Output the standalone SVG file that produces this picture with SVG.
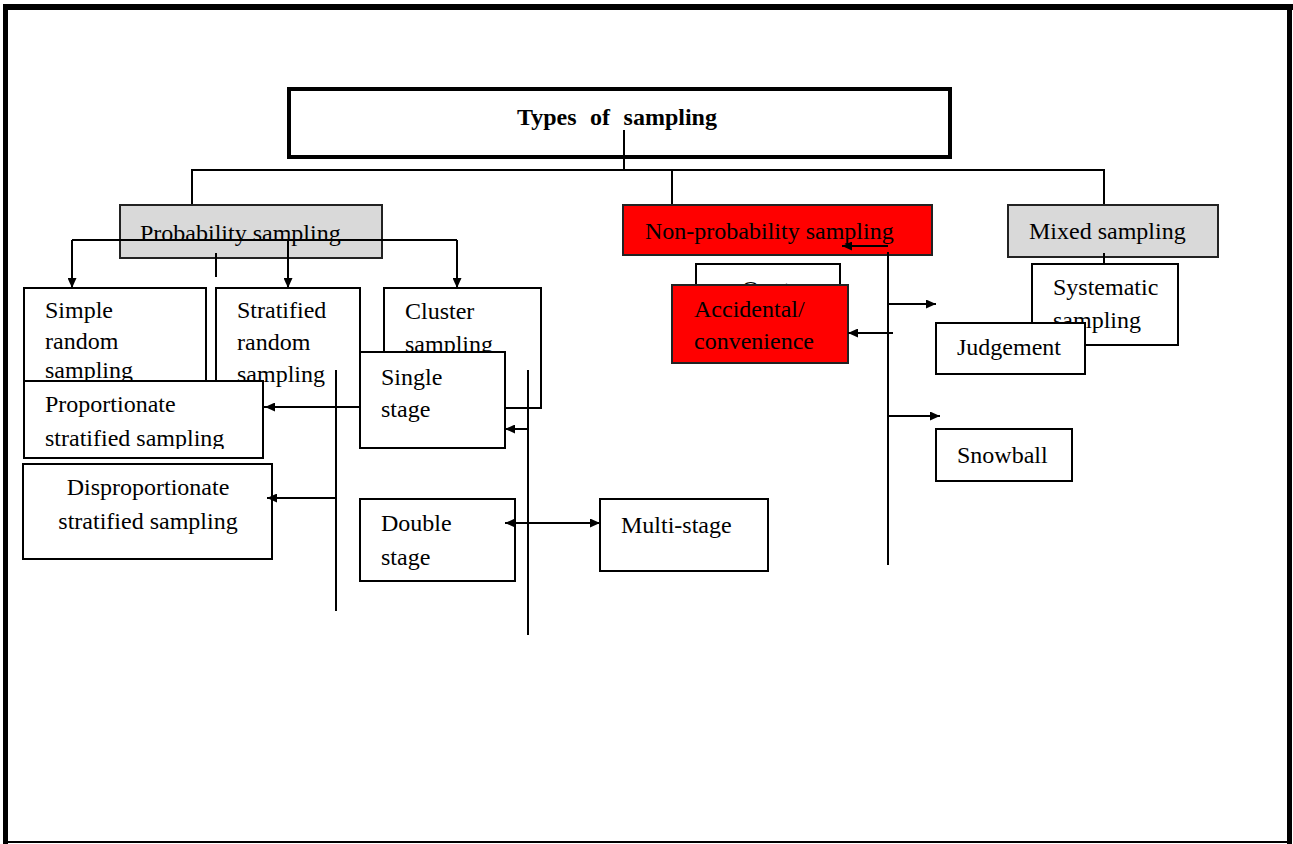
<svg xmlns="http://www.w3.org/2000/svg" width="1293" height="844" viewBox="0 0 1293 844">
  <style>
    text { font-family: "Liberation Serif", "Times New Roman", serif; font-size: 24px; fill: #000; }
    .title { font-weight: bold; word-spacing: 7.5px; }
    .box { fill: #fff; stroke: #000; stroke-width: 2; }
    .grey { fill: #d9d9d9; stroke: #222; stroke-width: 2; }
    .red { fill: #ff0000; stroke: #222; stroke-width: 2; }
    .ln { fill: none; stroke: #000; stroke-width: 2; }
    .arr { fill: none; stroke: #000; stroke-width: 2; marker-end: url(#head); }
  </style>
  <defs>
    <marker id="head" markerUnits="userSpaceOnUse" markerWidth="10" markerHeight="9" refX="10" refY="4.5" orient="auto">
      <path d="M0,0 L10,4.5 L0,9 z" fill="#000"/>
    </marker>
    <marker id="tail" markerUnits="userSpaceOnUse" markerWidth="10" markerHeight="9" refX="0" refY="4.5" orient="auto">
      <path d="M10,0 L0,4.5 L10,9 z" fill="#000"/>
    </marker>
    <clipPath id="clipProp"><rect x="24" y="381" width="239" height="68"/></clipPath>
    <clipPath id="clipQuota"><rect x="697" y="265" width="142" height="20"/></clipPath>
  </defs>

  <!-- page frame -->
  <g id="frame" fill="#000">
    <rect x="3" y="4" width="1290" height="6"/>
    <rect x="3" y="4" width="5" height="840"/>
    <rect x="1287" y="4" width="5" height="840"/>
    <rect x="3" y="841" width="1289" height="2"/>
  </g>

  <g id="n-title">
    <rect x="289" y="89" width="661" height="68" fill="#fff" stroke="#000" stroke-width="4"/>
    <text class="title" x="517" y="125">Types of sampling</text>
  </g>

  <!-- top-level branches -->
  <g id="connectors-top">
    <path class="ln" d="M624,130 V171"/>
    <path class="ln" d="M192,205 V170 H1104 V205"/>
    <path class="ln" d="M672,170 V205"/>
  </g>

  <g id="n-probability">
    <rect class="grey" x="120" y="205" width="262" height="53"/>
    <text x="140" y="241">Probability sampling</text>
  </g>
  <g id="n-nonprobability">
    <rect class="red" x="623" y="205" width="309" height="50"/>
    <text x="645" y="239">Non-probability sampling</text>
  </g>
  <g id="n-mixed">
    <rect class="grey" x="1008" y="205" width="210" height="52"/>
    <text x="1029" y="239">Mixed sampling</text>
  </g>

  <!-- probability sampling branches -->
  <g id="connectors-prob">
    <path class="ln" d="M72,240 H457"/>
    <path class="arr" d="M72,240 V288"/>
    <path class="arr" d="M288,240 V288"/>
    <path class="arr" d="M457,240 V288"/>
    <path class="ln" d="M216,253 V277"/>
  </g>

  <g id="n-simple">
    <rect class="box" x="24" y="288" width="182" height="95"/>
    <text x="45" y="318">Simple</text>
    <text x="45" y="349">random</text>
    <text x="45" y="378">sampling</text>
  </g>
  <g id="n-stratified">
    <rect class="box" x="216" y="288" width="144" height="119"/>
    <text x="237" y="318">Stratified</text>
    <text x="237" y="350">random</text>
    <text x="237" y="382">sampling</text>
  </g>
  <g id="n-cluster">
    <rect class="box" x="384" y="288" width="157" height="120"/>
    <text x="405" y="319">Cluster</text>
    <text x="405" y="352">sampling</text>
  </g>

  <g id="n-proportionate">
    <rect class="box" x="24" y="381" width="239" height="77"/>
    <g clip-path="url(#clipProp)">
      <text x="45" y="412">Proportionate</text>
      <text x="45" y="446">stratified sampling</text>
    </g>
  </g>
  <g id="n-disproportionate">
    <rect class="box" x="23" y="464" width="249" height="95"/>
    <text x="148" y="495" text-anchor="middle">Disproportionate</text>
    <text x="148" y="529" text-anchor="middle">stratified sampling</text>
  </g>

  <g id="n-single">
    <rect class="box" x="360" y="352" width="145" height="96"/>
    <text x="381" y="385">Single</text>
    <text x="381" y="417">stage</text>
  </g>
  <g id="n-double">
    <rect class="box" x="360" y="499" width="155" height="82"/>
    <text x="381" y="531">Double</text>
    <text x="381" y="565">stage</text>
  </g>
  <g id="n-multi">
    <rect class="box" x="600" y="499" width="168" height="72"/>
    <text x="621" y="533">Multi-stage</text>
  </g>

  <!-- stratified and cluster sub-branches -->
  <g id="connectors-sub">
    <path class="ln" d="M336,370 V611"/>
    <path class="arr" d="M360,407 H265"/>
    <path class="arr" d="M336,498 H267"/>
    <path class="ln" d="M528,370 V635"/>
    <path class="arr" d="M528,429 H505"/>
    <path class="ln" d="M505,523 H600" marker-start="url(#tail)" marker-end="url(#head)"/>
  </g>

  <g id="n-quota">
    <rect class="box" x="696" y="264" width="144" height="40"/>
    <text x="742" y="297" clip-path="url(#clipQuota)">Quota</text>
  </g>
  <g id="n-accidental">
    <rect class="red" x="672" y="285" width="176" height="78"/>
    <text x="694" y="317">Accidental/</text>
    <text x="694" y="349">convenience</text>
  </g>

  <g id="n-systematic">
    <rect class="box" x="1032" y="264" width="146" height="81"/>
    <text x="1053" y="295">Systematic</text>
    <text x="1053" y="328">sampling</text>
  </g>
  <g id="n-judgement">
    <rect class="box" x="936" y="323" width="149" height="51"/>
    <text x="957" y="355">Judgement</text>
  </g>
  <g id="n-snowball">
    <rect class="box" x="936" y="429" width="136" height="52"/>
    <text x="957" y="463">Snowball</text>
  </g>

  <!-- non-probability and mixed branches -->
  <g id="connectors-nonprob">
    <path class="ln" d="M888,252 V565"/>
    <path class="arr" d="M888,246 H842"/>
    <path class="arr" d="M888,304 H936"/>
    <path class="arr" d="M893,333 H848"/>
    <path class="arr" d="M887,416 H940"/>
    <path class="ln" d="M1104,253 V264"/>
  </g>
</svg>
